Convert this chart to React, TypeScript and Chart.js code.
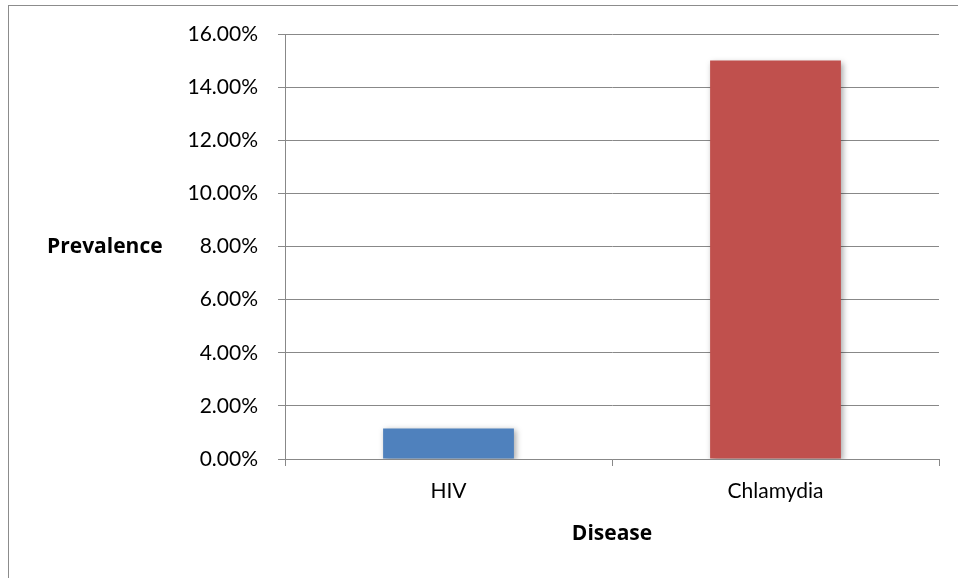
import React, { useEffect, useRef } from "react";
import { Chart, registerables } from "chart.js";

Chart.register(...registerables);

const categories: string[] = ["HIV", "Chlamydia"];
const prevalence: number[] = [1.15, 15.0];
const barColors: string[] = ["#4F81BD", "#C0504D"];
const yMin = 0;
const yMax = 16;
const yStep = 2;
const xTitle = "Disease";
const yTitle = "Prevalence";

const FONT = "Lato, 'Open Sans', sans-serif";
const TITLE_FONT = "'Open Sans', Lato, sans-serif";
const GRID = "#888888";

const decorPlugin = {
  id: "decor",
  beforeDraw(chart: any) {
    const ctx = chart.ctx;
    ctx.save();
    ctx.fillStyle = "#ffffff";
    ctx.fillRect(0, 0, chart.width, chart.height);
    ctx.strokeStyle = "#8c8c8c";
    ctx.lineWidth = 1;
    ctx.strokeRect(8.5, 5.5, 1200, 1200);
    ctx.restore();
  },
  beforeDatasetsDraw(chart: any) {
    const ctx = chart.ctx;
    ctx.save();
    ctx.shadowColor = "rgba(0,0,0,0.35)";
    ctx.shadowBlur = 6;
    ctx.shadowOffsetX = 2;
    ctx.shadowOffsetY = 2;
  },
  afterDatasetsDraw(chart: any) {
    chart.ctx.restore();
  },
  afterDraw(chart: any) {
    const ctx = chart.ctx;
    const area = chart.chartArea;
    ctx.save();
    ctx.fillStyle = "#000000";
    ctx.font = `bold 21px ${TITLE_FONT}`;
    ctx.textBaseline = "middle";
    ctx.textAlign = "left";
    ctx.fillText(yTitle, 47, (area.top + area.bottom) / 2 + 1);
    ctx.textAlign = "center";
    ctx.fillText(xTitle, (area.left + area.right) / 2, 534);
    ctx.restore();
  },
};

export default function App() {
  const ref = useRef<HTMLCanvasElement | null>(null);
  useEffect(() => {
    if (!ref.current) return;
    const chart = new Chart(ref.current, {
      type: "bar",
      data: {
        labels: categories,
        datasets: [
          {
            data: prevalence,
            backgroundColor: barColors,
            borderWidth: 0,
            barPercentage: 0.4,
            categoryPercentage: 1,
          },
        ],
      },
      options: {
        responsive: false,
        animation: false,
        layout: { padding: { top: 34, right: 19, bottom: 0, left: 0 } },
        plugins: {
          legend: { display: false },
          tooltip: { enabled: false },
          title: { display: false },
        },
        scales: {
          x: {
            afterFit: (s: any) => {
              s.height = 119;
            },
            grid: {
              drawOnChartArea: false,
              drawTicks: true,
              tickLength: 7,
              color: GRID,
              offset: true,
            },
            border: { color: GRID, width: 1 },
            ticks: {
              color: "#000000",
              font: { family: FONT, size: 21 },
              padding: 13,
            },
          },
          y: {
            min: yMin,
            max: yMax,
            afterFit: (s: any) => {
              s.width = 285;
            },
            grid: {
              color: GRID,
              drawTicks: true,
              tickLength: 7,
            },
            border: { color: GRID, width: 1 },
            ticks: {
              stepSize: yStep,
              color: "#000000",
              font: { family: FONT, size: 21 },
              padding: 20,
              callback: (v: any) => Number(v).toFixed(2) + "%",
            },
          },
        },
      },
      plugins: [decorPlugin],
    });
    return () => chart.destroy();
  }, []);
  return (
    <div style={{ position: "fixed", left: 0, top: 0, width: 958, height: 578 }}>
      <canvas ref={ref} width={958} height={578} style={{ width: 958, height: 578 }} />
    </div>
  );
}
